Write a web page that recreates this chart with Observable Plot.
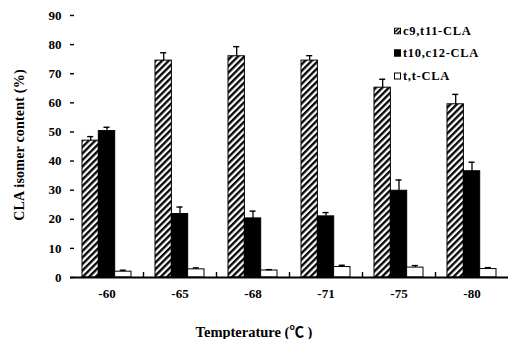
<!DOCTYPE html>
<html><head><meta charset="utf-8">
<script src="https://cdn.jsdelivr.net/npm/d3@7"></script>
<script src="https://cdn.jsdelivr.net/npm/@observablehq/plot@0.6"></script>
<style>
body{margin:0;background:#fff;}
#wrap{position:relative;width:510px;height:339px;font-family:"Liberation Serif","Noto Sans CJK SC",serif;font-weight:bold;color:#000;}
.ylab{position:absolute;left:20px;top:145px;transform:translate(-50%,-50%) rotate(-90deg);white-space:nowrap;font-size:14px;letter-spacing:0.2px;}
.xlab{position:absolute;left:254px;top:330px;transform:translate(-50%,-50%);white-space:nowrap;font-size:14.5px;}
.leg{position:absolute;left:394px;font-size:12.5px;letter-spacing:0.7px;display:flex;align-items:center;white-space:nowrap;transform:translateY(-50%);}
.sw{width:7px;height:7px;border:1px solid #000;box-sizing:border-box;margin-right:2px;}
</style></head>
<body>
<svg width="0" height="0" style="position:absolute">
<defs>
<pattern id="hatch" patternUnits="userSpaceOnUse" width="4.6" height="4.6" patternTransform="rotate(45)">
<rect width="4.6" height="4.6" fill="#fff"/>
<line x1="1.2" y1="0" x2="1.2" y2="4.6" stroke="#000" stroke-width="2.3"/>
</pattern>
<pattern id="hatchS" patternUnits="userSpaceOnUse" width="3" height="3" patternTransform="rotate(45)">
<rect width="3" height="3" fill="#fff"/>
<line x1="0.8" y1="0" x2="0.8" y2="3" stroke="#000" stroke-width="1.6"/>
</pattern>
</defs>
</svg>
<div id="wrap">
<div id="chart"></div>
<div class="ylab">CLA isomer content (%)</div>
<div class="xlab">Tempterature (℃ )</div>
<div class="leg" style="top:31px"><svg class="sw" width="7" height="7" style="border:none"><rect x="0.5" y="0.5" width="6" height="6" fill="url(#hatchS)" stroke="#000"/></svg>c9,t11-CLA</div>
<div class="leg" style="top:53px"><div class="sw" style="background:#000"></div>t10,c12-CLA</div>
<div class="leg" style="top:76px"><div class="sw" style="background:#fff"></div>t,t-CLA</div>
</div>
<script>
const temps = ["-60","-65","-68","-71","-75","-80"];
const seriesNames = ["c9,t11-CLA","t10,c12-CLA","t,t-CLA"];
const c9t11 = [47.0, 74.5, 76.0, 74.5, 65.2, 59.5];
const c9t11Err = [1.4, 2.7, 3.3, 1.7, 2.9, 3.4];
const t10c12 = [50.3, 21.8, 20.3, 21.0, 29.8, 36.5];
const t10c12Err = [1.3, 2.4, 2.5, 1.3, 3.7, 3.1];
const tt = [2.0, 2.8, 2.4, 3.6, 3.4, 2.9];
const ttErr = [0.5, 0.5, 0.3, 0.6, 0.7, 0.5];
const yTicks = [0,10,20,30,40,50,60,70,80,90];

const values = [c9t11, t10c12, tt];
const errs = [c9t11Err, t10c12Err, ttErr];
const fills = ["url(#hatch)", "#000", "#fff"];

const W = 510, H = 339, ML = 70, MR = 2, MT = 15, MB = 62;
const pIn = 0.33, pOut = 0.165;
const plotW = W - ML - MR;
const step = plotW / (temps.length - pIn + 2 * pOut);
const bw = step * (1 - pIn);
const sub = bw / 3;
const capW = 6;

const data = [];
values.forEach((arr, i) => arr.forEach((v, j) => data.push({temp: temps[j], series: seriesNames[i], si: i, value: v, err: errs[i][j]})));

const marks = [];
seriesNames.forEach((s, i) => {
  const d = data.filter(r => r.si === i);
  marks.push(Plot.barY(d, {x: "temp", y: "value", fill: fills[i], stroke: "#000", strokeWidth: 1,
    insetLeft: i * sub, insetRight: (2 - i) * sub}));
  marks.push(Plot.ruleX(d, {x: "temp", y1: "value", y2: r => r.value + r.err, dx: (i - 1) * sub, stroke: "#000", strokeWidth: 1.3}));
  marks.push(Plot.tickY(d, {x: "temp", y: r => r.value + r.err, stroke: "#000", strokeWidth: 1.4,
    insetLeft: i * sub + (sub - capW) / 2, insetRight: (2 - i) * sub + (sub - capW) / 2}));
});

const chart = Plot.plot({
  width: W, height: H,
  marginLeft: ML, marginRight: MR, marginTop: MT, marginBottom: MB,
  style: {fontFamily: '"Liberation Serif","Times New Roman",serif', fontWeight: "bold", fontSize: "13px", color: "#000", background: "#fff"},
  x: {domain: temps, paddingInner: pIn, paddingOuter: pOut, label: null},
  y: {domain: [0, 90], label: null},
  marks: [
    ...marks,
    Plot.ruleY(yTicks, {y: d => d, insetRight: plotW - 4, stroke: "#000", strokeWidth: 1.4}),
    Plot.ruleX(temps.slice(0, -1), {x: d => d, dx: step / 2, y1: 0, y2: 0, insetTop: -5, stroke: "#000", strokeWidth: 1.4}),
    Plot.ruleY([0], {stroke: "#000", strokeWidth: 2}),
    Plot.axisY({ticks: yTicks, tickSize: 0, tickPadding: 9, line: true, stroke: "#000", strokeWidth: 2, label: null, fontSize: 13}),
    Plot.axisX({tickSize: 0, tickPadding: 11, label: null, fontSize: 13})
  ]
});
document.getElementById("chart").appendChild(chart);
</script>
</body></html>
